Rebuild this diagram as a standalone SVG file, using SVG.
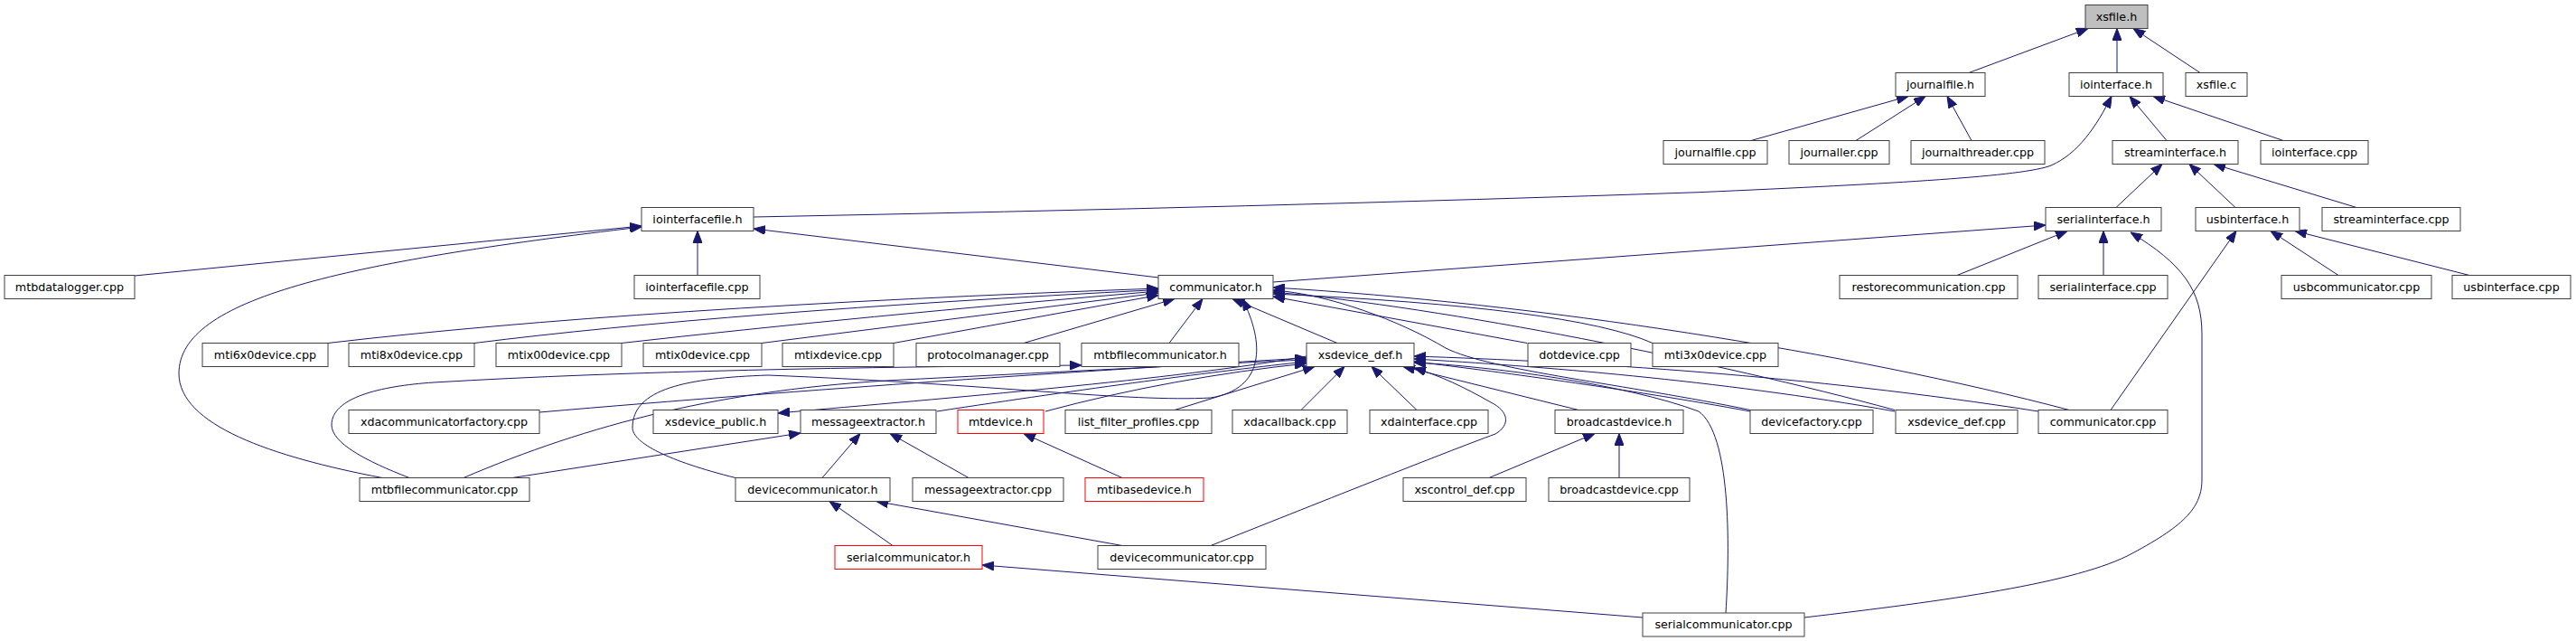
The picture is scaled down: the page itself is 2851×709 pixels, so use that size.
<svg xmlns="http://www.w3.org/2000/svg" width="2851" height="709" viewBox="0 0 2851 709">
<style>
.n rect{fill:#fff;stroke:#404040;stroke-width:1}
.n.r rect{stroke:#ff0000}
.n.root rect{fill:#bfbfbf}
.n text{font-family:"DejaVu Sans","Liberation Sans",sans-serif;font-size:12.7px;text-anchor:middle;fill:#000}
#edges path{fill:none;stroke:#191970;stroke-width:1;marker-end:url(#a)}
</style>
<defs>
<marker id="a" markerUnits="userSpaceOnUse" markerWidth="13" markerHeight="10" refX="13" refY="5" orient="auto"><path d="M0,0 L13,5 L0,10 z" fill="#191970" stroke="#191970"/></marker>
</defs>
<rect width="2851" height="709" fill="#fff"/>
<g id="edges">
<path d="M2179,80.5 L2311,31.5"/>
<path d="M2343,80.5 L2343,31.5"/>
<path d="M2435,80.5 L2361,31.5"/>
<path d="M1938,155.5 L2112,106.5"/>
<path d="M2054,155.5 L2131,106.5"/>
<path d="M2182,155.5 L2155,106.5"/>
<path d="M834,240 Q1400,229 1880,212.7 C2100,203 2240,195 2270,183 C2300,170 2320,140 2337,106.5"/>
<path d="M2398,155.5 L2357,106.5"/>
<path d="M2527,155.5 L2383,106.5"/>
<path d="M2342,229.5 L2393,181.5"/>
<path d="M2474,229.5 L2423,181.5"/>
<path d="M2608,229.5 L2450,181.5"/>
<path d="M149,305 L710,250"/>
<path d="M772,304.5 L772,255.5"/>
<path d="M1282,307 L834,253"/>
<path d="M423,528.5 C300,505 198,470 198,413 C198,330 380,290 710,251"/>
<path d="M1409,312 L2264,249"/>
<path d="M2166,304.5 L2288,255.5"/>
<path d="M2328,304.5 L2328,255.5"/>
<path d="M1997,683 C2150,665 2300,645 2360,612 C2420,580 2437,560 2437,530 L2437,370 C2437,320 2415,292 2358,257"/>
<path d="M2336,453.5 L2475,255.5"/>
<path d="M2588,304.5 L2513,255.5"/>
<path d="M2733,304.5 L2540,255.5"/>
<path d="M363,379.5 Q700,340 1282,319"/>
<path d="M525,379.5 Q800,345 1282,320.5"/>
<path d="M688,379.5 Q950,350 1282,322"/>
<path d="M843,379.5 L1282,324"/>
<path d="M989,379.5 L1282,326.5"/>
<path d="M1133,379.5 L1300,330.5"/>
<path d="M1294,379.5 L1331,330.5"/>
<path d="M1480,379.5 L1364,330.5"/>
<path d="M1690,379.5 L1409,328"/>
<path d="M1829,379.5 Q1740,340 1409,325"/>
<path d="M2290,453.5 C2050,390 1700,335 1409,318"/>
<path d="M1937,453.5 C1800,425 1650,410 1600,385 C1550,355 1470,325 1409,321"/>
<path d="M2097,453.5 C1900,400 1600,340 1409,323"/>
<path d="M814,528.5 C740,510 700,490 700,473 C700,430 760,418 850,415 C1100,425 1250,445 1340,440 C1400,430 1400,380 1375,330.5"/>
<path d="M453,528.5 C405,510 367,490 367,470 C367,440 420,427 480,423 C700,410 950,406 1197,404"/>
<path d="M513,528.5 C650,470 800,430 1000,420 C1200,410 1350,402 1446,398"/>
<path d="M567,528.5 L886,479"/>
<path d="M910,528.5 L952,479.5"/>
<path d="M1072,528.5 L985,479.5"/>
<path d="M1242,528.5 L1133,479.5"/>
<path d="M988,603.5 L918,554.5"/>
<path d="M1242,603.5 L970,554.5"/>
<path d="M1818,683 L1087,625"/>
<path d="M1340,603.5 C1450,560 1600,500 1655,480 C1672,470 1670,455 1650,445 C1620,428 1595,416 1565,407"/>
<path d="M597,456 C900,430 1200,410 1446,396"/>
<path d="M1037,455 C1200,430 1350,410 1446,400"/>
<path d="M1157,455 C1250,430 1350,412 1446,402"/>
<path d="M1300,453.5 L1455,405.5"/>
<path d="M1440,453.5 L1488,405.5"/>
<path d="M1568,453.5 L1518,405.5"/>
<path d="M1747,453.5 L1553,405.5"/>
<path d="M1937,455 C1800,430 1650,410 1565,400"/>
<path d="M2097,455 C1900,420 1700,405 1565,397"/>
<path d="M2256,455 C2000,415 1750,400 1565,394"/>
<path d="M1446,394 C1300,420 1050,440 861,457"/>
<path d="M1910,678 C1915,600 1915,480 1880,455 C1800,425 1650,405 1565,401"/>
<path d="M1648,528.5 L1765,479.5"/>
<path d="M1792,528.5 L1792,479.5"/>
</g>
<g id="n_xsfile_h" class="n root"><rect x="2308" y="5.5" width="69" height="26"/><text x="2342.5" y="22.8">xsfile.h</text></g>
<g id="n_journalfile_h" class="n"><rect x="2098" y="80.5" width="99" height="26"/><text x="2147.5" y="97.8">journalfile.h</text></g>
<g id="n_iointerface_h" class="n"><rect x="2290" y="80.5" width="104" height="26"/><text x="2342" y="97.8">iointerface.h</text></g>
<g id="n_xsfile_c" class="n"><rect x="2419" y="80.5" width="68" height="26"/><text x="2453" y="97.8">xsfile.c</text></g>
<g id="n_journalfile_cpp" class="n"><rect x="1841" y="155.5" width="115" height="26"/><text x="1898.5" y="172.8">journalfile.cpp</text></g>
<g id="n_journaller_cpp" class="n"><rect x="1980" y="155.5" width="111" height="26"/><text x="2035.5" y="172.8">journaller.cpp</text></g>
<g id="n_journalthreader_cpp" class="n"><rect x="2115" y="155.5" width="148" height="26"/><text x="2189" y="172.8">journalthreader.cpp</text></g>
<g id="n_streaminterface_h" class="n"><rect x="2338" y="155.5" width="139" height="26"/><text x="2407.5" y="172.8">streaminterface.h</text></g>
<g id="n_iointerface_cpp" class="n"><rect x="2502" y="155.5" width="119" height="26"/><text x="2561.5" y="172.8">iointerface.cpp</text></g>
<g id="n_iointerfacefile_h" class="n"><rect x="710" y="229.5" width="124" height="26"/><text x="772" y="246.8">iointerfacefile.h</text></g>
<g id="n_serialinterface_h" class="n"><rect x="2264" y="229.5" width="128" height="26"/><text x="2328" y="246.8">serialinterface.h</text></g>
<g id="n_usbinterface_h" class="n"><rect x="2430" y="229.5" width="115" height="26"/><text x="2487.5" y="246.8">usbinterface.h</text></g>
<g id="n_streaminterface_cpp" class="n"><rect x="2570" y="229.5" width="153" height="26"/><text x="2646.5" y="246.8">streaminterface.cpp</text></g>
<g id="n_mtbdatalogger_cpp" class="n"><rect x="5" y="304.5" width="144" height="26"/><text x="77" y="321.8">mtbdatalogger.cpp</text></g>
<g id="n_iointerfacefile_cpp" class="n"><rect x="702" y="304.5" width="139" height="26"/><text x="771.5" y="321.8">iointerfacefile.cpp</text></g>
<g id="n_communicator_h" class="n"><rect x="1282" y="304.5" width="127" height="26"/><text x="1345.5" y="321.8">communicator.h</text></g>
<g id="n_restorecommunication_cpp" class="n"><rect x="2036" y="304.5" width="197" height="26"/><text x="2134.5" y="321.8">restorecommunication.cpp</text></g>
<g id="n_serialinterface_cpp" class="n"><rect x="2256" y="304.5" width="143" height="26"/><text x="2327.5" y="321.8">serialinterface.cpp</text></g>
<g id="n_usbcommunicator_cpp" class="n"><rect x="2525" y="304.5" width="166" height="26"/><text x="2608" y="321.8">usbcommunicator.cpp</text></g>
<g id="n_usbinterface_cpp" class="n"><rect x="2714" y="304.5" width="131" height="26"/><text x="2779.5" y="321.8">usbinterface.cpp</text></g>
<g id="n_mti6x0device_cpp" class="n"><rect x="224" y="379.5" width="139" height="26"/><text x="293.5" y="396.8">mti6x0device.cpp</text></g>
<g id="n_mti8x0device_cpp" class="n"><rect x="386" y="379.5" width="139" height="26"/><text x="455.5" y="396.8">mti8x0device.cpp</text></g>
<g id="n_mtix00device_cpp" class="n"><rect x="549" y="379.5" width="139" height="26"/><text x="618.5" y="396.8">mtix00device.cpp</text></g>
<g id="n_mtix0device_cpp" class="n"><rect x="712" y="379.5" width="131" height="26"/><text x="777.5" y="396.8">mtix0device.cpp</text></g>
<g id="n_mtixdevice_cpp" class="n"><rect x="866" y="379.5" width="123" height="26"/><text x="927.5" y="396.8">mtixdevice.cpp</text></g>
<g id="n_protocolmanager_cpp" class="n"><rect x="1014" y="379.5" width="159" height="26"/><text x="1093.5" y="396.8">protocolmanager.cpp</text></g>
<g id="n_mtbfilecommunicator_h" class="n"><rect x="1197" y="379.5" width="174" height="26"/><text x="1284" y="396.8">mtbfilecommunicator.h</text></g>
<g id="n_xsdevice_def_h" class="n"><rect x="1446" y="379.5" width="119" height="26"/><text x="1505.5" y="396.8">xsdevice_def.h</text></g>
<g id="n_dotdevice_cpp" class="n"><rect x="1691" y="379.5" width="114" height="26"/><text x="1748" y="396.8">dotdevice.cpp</text></g>
<g id="n_mti3x0device_cpp" class="n"><rect x="1829" y="379.5" width="139" height="26"/><text x="1898.5" y="396.8">mti3x0device.cpp</text></g>
<g id="n_xdacommunicatorfactory_cpp" class="n"><rect x="386" y="453.5" width="211" height="26"/><text x="491.5" y="470.8">xdacommunicatorfactory.cpp</text></g>
<g id="n_xsdevice_public_h" class="n"><rect x="723" y="453.5" width="138" height="26"/><text x="792" y="470.8">xsdevice_public.h</text></g>
<g id="n_messageextractor_h" class="n"><rect x="886" y="453.5" width="150" height="26"/><text x="961" y="470.8">messageextractor.h</text></g>
<g id="n_mtdevice_h" class="n r"><rect x="1060" y="453.5" width="95" height="26"/><text x="1107.5" y="470.8">mtdevice.h</text></g>
<g id="n_list_filter_profiles_cpp" class="n"><rect x="1179" y="453.5" width="162" height="26"/><text x="1260" y="470.8">list_filter_profiles.cpp</text></g>
<g id="n_xdacallback_cpp" class="n"><rect x="1364" y="453.5" width="127" height="26"/><text x="1427.5" y="470.8">xdacallback.cpp</text></g>
<g id="n_xdainterface_cpp" class="n"><rect x="1516" y="453.5" width="131" height="26"/><text x="1581.5" y="470.8">xdainterface.cpp</text></g>
<g id="n_broadcastdevice_h" class="n"><rect x="1721" y="453.5" width="142" height="26"/><text x="1792" y="470.8">broadcastdevice.h</text></g>
<g id="n_devicefactory_cpp" class="n"><rect x="1937" y="453.5" width="136" height="26"/><text x="2005" y="470.8">devicefactory.cpp</text></g>
<g id="n_xsdevice_def_cpp" class="n"><rect x="2098" y="453.5" width="135" height="26"/><text x="2165.5" y="470.8">xsdevice_def.cpp</text></g>
<g id="n_communicator_cpp" class="n"><rect x="2256" y="453.5" width="143" height="26"/><text x="2327.5" y="470.8">communicator.cpp</text></g>
<g id="n_mtbfilecommunicator_cpp" class="n"><rect x="398" y="528.5" width="188" height="26"/><text x="492" y="545.8">mtbfilecommunicator.cpp</text></g>
<g id="n_devicecommunicator_h" class="n"><rect x="814" y="528.5" width="171" height="26"/><text x="899.5" y="545.8">devicecommunicator.h</text></g>
<g id="n_messageextractor_cpp" class="n"><rect x="1010" y="528.5" width="167" height="26"/><text x="1093.5" y="545.8">messageextractor.cpp</text></g>
<g id="n_mtibasedevice_h" class="n r"><rect x="1201" y="528.5" width="131" height="26"/><text x="1266.5" y="545.8">mtibasedevice.h</text></g>
<g id="n_xscontrol_def_cpp" class="n"><rect x="1553" y="528.5" width="136" height="26"/><text x="1621" y="545.8">xscontrol_def.cpp</text></g>
<g id="n_broadcastdevice_cpp" class="n"><rect x="1714" y="528.5" width="156" height="26"/><text x="1792" y="545.8">broadcastdevice.cpp</text></g>
<g id="n_serialcommunicator_h" class="n r"><rect x="924" y="603.5" width="163" height="26"/><text x="1005.5" y="620.8">serialcommunicator.h</text></g>
<g id="n_devicecommunicator_cpp" class="n"><rect x="1215" y="603.5" width="186" height="26"/><text x="1308" y="620.8">devicecommunicator.cpp</text></g>
<g id="n_serialcommunicator_cpp" class="n"><rect x="1818" y="678" width="179" height="26"/><text x="1907.5" y="695.3">serialcommunicator.cpp</text></g>
</svg>
